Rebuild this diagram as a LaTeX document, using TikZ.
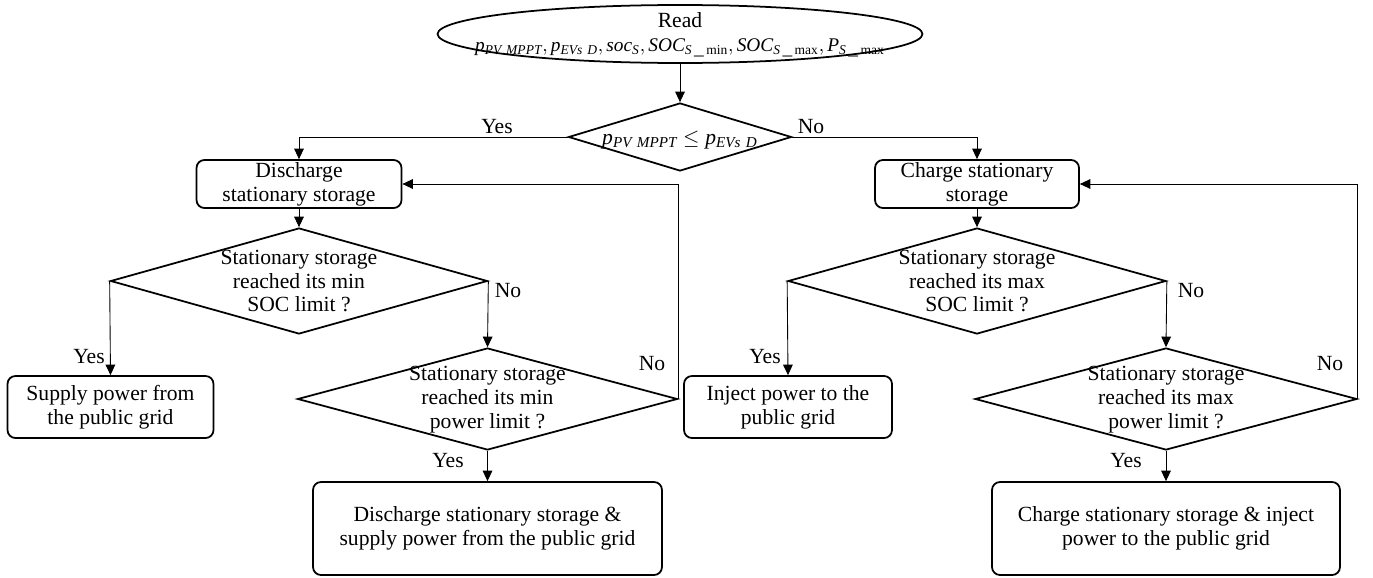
\documentclass[tikz,border=0pt]{standalone}
\usepackage{fontspec}
\setmainfont{Liberation Serif}
\usepackage{tikz}
\usetikzlibrary{shapes.geometric,arrows.meta}

\newcommand{\vr}[2]{\mathit{#1}_{\mathit{#2}}}

\begin{document}
\begin{tikzpicture}[x=0.02cm, y=-0.02cm, font=\fontsize{12.3}{13.6}\selectfont,
		box/.style = {draw, line width=1pt, rounded corners=4.5pt, align=center, inner sep=0pt},
		dec/.style = {draw, diamond, line width=1pt, inner sep=0pt},
		txt/.style = {align=center, inner sep=0pt},
		lbl/.style = {inner sep=1pt},
		arr/.style = {line width=0.5pt, -{Triangle[width=5.5pt,length=6pt]}}]
		\useasboundingbox (0,0) rectangle (1373,578);
		\node[draw, ellipse, line width=1pt, minimum width=9.7cm, minimum height=1.16cm, inner sep=0pt] (ell) at (680,34) {};
		\node[txt] (read) at (680,35) {Read\\\fontsize{11}{13}\selectfont$\vr{p}{PV\ MPPT}, \vr{p}{EVs\ D}, \vr{soc}{S}, \vr{SOC}{S\,\_\,\mathrm{min}}, \vr{SOC}{S\,\_\,\mathrm{max}}, \vr{P}{S\,\_\,\mathrm{max}}$};
		\node[dec, minimum width=4.46cm, minimum height=1.36cm] (d1) at (680,137) {};
		\node[txt] (d1t) at (680,140) {$\vr{p}{PV\ MPPT} \leq \vr{p}{EVs\ D}$};

		\node[box, minimum width=4.1cm, minimum height=0.96cm] (b1) at (299,184) {Discharge\\stationary storage};
		\node[dec, minimum width=7.54cm, minimum height=2.12cm] (d2) at (299,281) {};
		\node[txt] (d2t) at (299,281) {Stationary storage\\reached its min\\SOC limit ?};
		\node[box, minimum width=4.12cm, minimum height=1.24cm] (s1) at (110.5,407) {Supply power from\\the public grid};
		\node[dec, minimum width=7.6cm, minimum height=2.04cm] (d3) at (487.5,399) {};
		\node[txt] (d3t) at (487.5,400) {Stationary storage\\reached its min\\power limit ?};
		\node[box, minimum width=6.98cm, minimum height=1.86cm] (f1) at (487.5,528.5) {Discharge stationary storage \&\\supply power from the public grid};

		\node[box, minimum width=4.08cm, minimum height=0.96cm] (b2) at (977,184) {Charge stationary\\storage};
		\node[dec, minimum width=7.56cm, minimum height=2.12cm] (d4) at (977,281) {};
		\node[txt] (d4t) at (977,281) {Stationary storage\\reached its max\\SOC limit ?};
		\node[box, minimum width=4.16cm, minimum height=1.24cm] (i1) at (788,407) {Inject power to the\\public grid};
		\node[dec, minimum width=7.64cm, minimum height=2.04cm] (d5) at (1166,399) {};
		\node[txt] (d5t) at (1166,400) {Stationary storage\\reached its max\\power limit ?};
		\node[box, minimum width=6.96cm, minimum height=1.86cm] (f2) at (1166,528.5) {Charge stationary storage \& inject\\power to the public grid};

		\draw[arr] (ell.south) -- (d1.north);
		\draw[arr] (d1.west) -| (b1.north);
		\draw[arr] (d1.east) -| (b2.north);
		\draw[arr] (b1.south) -- (d2.north);
		\draw[arr] (d2.west) -- (s1.north);
		\draw[arr] (d2.east) -- (d3.north);
		\draw[arr] (d3.south) -- (f1.north);
		\draw[arr] (d3.east) |- (b1.east);
		\draw[arr] (b2.south) -- (d4.north);
		\draw[arr] (d4.west) -- (i1.north);
		\draw[arr] (d4.east) -- (d5.north);
		\draw[arr] (d5.south) -- (f2.north);
		\draw[arr] (d5.east) |- (b2.east);

		\node[lbl] (yes1) at (497,127) {Yes};
		\node[lbl] (no1) at (811,127) {No};
		\node[lbl] (yes2) at (89,357) {Yes};
		\node[lbl] (no2) at (508,291) {No};
		\node[lbl] (no3) at (652,364) {No};
		\node[lbl] (yes3) at (448,461) {Yes};
		\node[lbl] (yes4) at (765,357) {Yes};
		\node[lbl] (no4) at (1191,291) {No};
		\node[lbl] (no5) at (1330,364) {No};
		\node[lbl] (yes5) at (1126,461) {Yes};
	\end{tikzpicture}
\end{document}
